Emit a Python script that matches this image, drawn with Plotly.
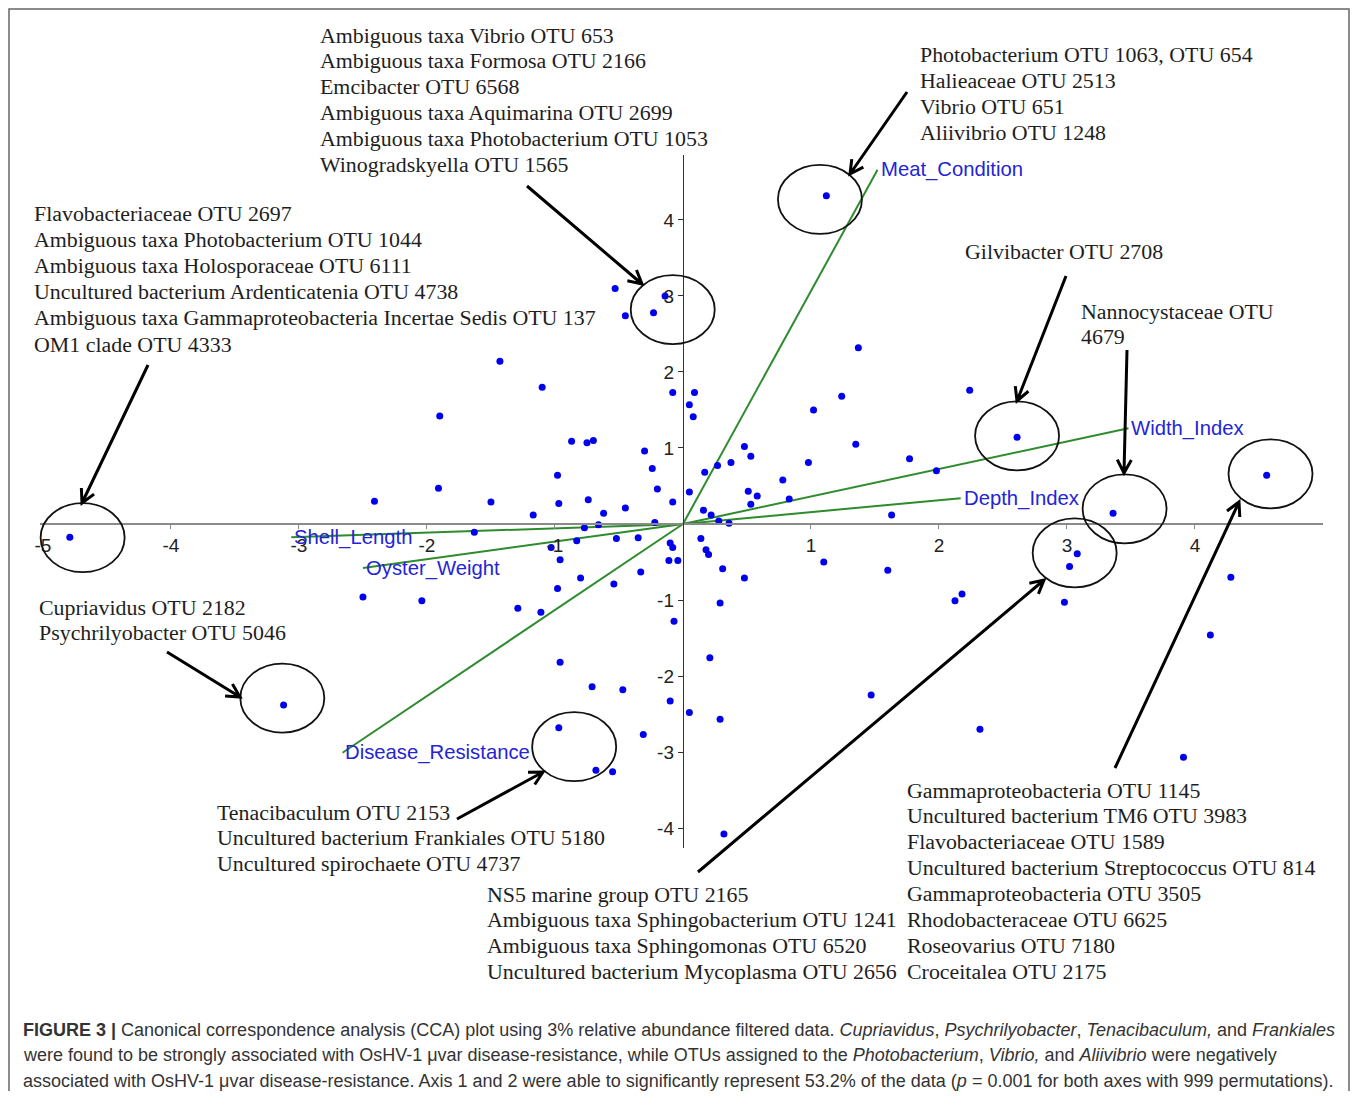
import math
import plotly.graph_objects as go

# ---------------- data ----------------
otu_cca1 = [-4.79, -3.12, -2.50, -2.41, -2.04, -1.91, -1.90, -1.63, -1.50, -1.43,
            -1.29, -1.17, -1.11, -1.10, -1.03, -0.98, -0.98, -0.97, -0.96, -0.96,
            -0.97, -0.87, -0.83, -0.80, -0.77, -0.75, -0.74, -0.71, -0.70, -0.68,
            -0.66, -0.62, -0.55, -0.54, -0.53, -0.52, -0.47, -0.45, -0.45, -0.35,
            -0.33, -0.31, -0.30, -0.24, -0.23, -0.22, -0.20, -0.14, -0.11, -0.10,
            -0.10, -0.08, -0.08, -0.08, -0.07, -0.04, 0.05, 0.05, 0.05, 0.08,
            0.09, 0.14, 0.16, 0.17, 0.18, 0.20, 0.21, 0.22, 0.27, 0.28,
            0.29, 0.29, 0.31, 0.32, 0.36, 0.375, 0.48, 0.48, 0.51, 0.53,
            0.53, 0.58, 0.78, 0.83, 0.98, 1.02, 1.10, 1.12, 1.24, 1.35,
            1.37, 1.47, 1.60, 1.63, 1.77, 1.98, 2.125, 2.18, 2.24, 2.32,
            2.61, 2.98, 3.02, 3.08, 3.36, 3.91, 4.12, 4.28, 4.56]
otu_cca2 = [-0.175, -2.38, -0.96, 0.30, -1.01, 0.47, 1.42, -0.11, 0.29, 2.14,
            -1.11, 0.12, -1.16, 1.80, -0.31, 0.64, -0.85, 0.27, -0.47, -1.82,
            -2.68, 1.09, -0.22, -0.71, -0.05, 1.07, 0.32, -2.14, 1.10, -3.24,
            -0.01, 0.14, -3.26, -0.79, 3.10, -0.19, -2.18, 0.21, 2.74, -0.18,
            -0.63, -2.77, 0.96, 0.73, 2.78, 0.02, 0.46, 3.00, -0.48, -0.25,
            -2.33, 1.73, 0.29, -0.31, -1.28, -0.48, 0.42, 1.57, -2.48, 1.41,
            1.73, -0.19, 0.18, 0.68, -0.34, -0.40, -1.76, 0.12, 0.77, 0.04,
            -1.04, -2.57, -0.59, -4.08, 0.01, 0.81, 1.02, -0.71, 0.43, 0.89,
            0.26, 0.37, 0.58, 0.33, 0.81, 1.50, -0.50, 4.32, 1.68, 1.05,
            2.32, -2.25, -0.61, 0.12, 0.86, 0.70, -1.01, -0.92, 1.76, -2.70,
            1.14, -1.03, -0.56, -0.39, 0.14, -3.07, -1.46, -0.70, 0.64]

env_names = ["Meat_Condition", "Width_Index", "Depth_Index",
             "Shell_Length", "Oyster_Weight", "Disease_Resistance"]
env_cca1 = [1.52, 3.48, 2.17, -3.06, -2.50, -2.66]
env_cca2 = [4.66, 1.26, 0.34, -0.175, -0.58, -3.01]

x_ticks = [-5, -4, -3, -2, -1, 1, 2, 3, 4]
y_ticks = [-4, -3, -2, -1, 1, 2, 3, 4]

# highlighted groups: circle centre (data units)
circle_cx = [1.07, -0.08, 2.61, 3.45, 4.59, 3.06, -0.85, -4.69, -3.13]
circle_cy = [4.27, 2.82, 1.16, 0.20, 0.66, -0.38, -2.93, -0.18, -2.29]

label_blocks = [
    ["Ambiguous taxa Vibrio OTU 653", "Ambiguous taxa Formosa OTU 2166",
     "Emcibacter OTU 6568", "Ambiguous taxa Aquimarina OTU 2699",
     "Ambiguous taxa Photobacterium OTU 1053", "Winogradskyella OTU 1565"],
    ["Flavobacteriaceae OTU 2697", "Ambiguous taxa Photobacterium OTU 1044",
     "Ambiguous taxa Holosporaceae OTU 6111",
     "Uncultured bacterium Ardenticatenia OTU 4738",
     "Ambiguous taxa Gammaproteobacteria Incertae Sedis OTU 137",
     "OM1 clade OTU 4333"],
    ["Photobacterium OTU 1063, OTU 654", "Halieaceae OTU 2513",
     "Vibrio OTU 651", "Aliivibrio OTU 1248"],
    ["Gilvibacter OTU 2708"],
    ["Nannocystaceae OTU", "4679"],
    ["Cupriavidus OTU 2182", "Psychrilyobacter OTU 5046"],
    ["Tenacibaculum OTU 2153", "Uncultured bacterium Frankiales OTU 5180",
     "Uncultured spirochaete OTU 4737"],
    ["NS5 marine group OTU 2165", "Ambiguous taxa Sphingobacterium OTU 1241",
     "Ambiguous taxa Sphingomonas OTU 6520",
     "Uncultured bacterium Mycoplasma OTU 2656"],
    ["Gammaproteobacteria OTU 1145", "Uncultured bacterium TM6 OTU 3983",
     "Flavobacteriaceae OTU 1589", "Uncultured bacterium Streptococcus OTU 814",
     "Gammaproteobacteria OTU 3505", "Rhodobacteraceae OTU 6625",
     "Roseovarius OTU 7180", "Croceitalea OTU 2175"],
]

caption_lines = [
    "<b>FIGURE 3 |</b> Canonical correspondence analysis (CCA) plot using 3% relative abundance filtered data. "
    "<i>Cupriavidus</i>, <i>Psychrilyobacter</i>, <i>Tenacibaculum,</i> and <i>Frankiales</i>",
    "were found to be strongly associated with OsHV-1 \u03bcvar disease-resistance, while OTUs assigned to the "
    "<i>Photobacterium</i>, <i>Vibrio,</i> and <i>Aliivibrio</i> were negatively",
    "associated with OsHV-1 \u03bcvar disease-resistance. Axis 1 and 2 were able to significantly represent "
    "53.2% of the data (<i>p</i> = 0.001 for both axes with 999 permutations).",
]

# ---------------- layout geometry (page pixels) ----------------
PAGE_OFF = 8            # default body margin of the page
W, H = 1358 - 2 * PAGE_OFF, 1099 - 2 * PAGE_OFF
L, R, T, B = 40, 1323, 155, 848          # plot area in page pixels
X_RANGE = [-5.023, 5.0]
Y_RANGE = [-4.263, 4.855]


def px2paper(px, py):
    return (px - L) / (R - L), (B - py) / (B - T)


def data2px(x, y):
    px = L + (x - X_RANGE[0]) / (X_RANGE[1] - X_RANGE[0]) * (R - L)
    py = B - (y - Y_RANGE[0]) / (Y_RANGE[1] - Y_RANGE[0]) * (B - T)
    return px, py


SERIF = "Liberation Serif, Times New Roman, serif"
SANS = "Liberation Sans, Arial, Helvetica, sans-serif"
GREEN = "#2e8b2e"
BLUE_TXT = "#2424d6"

fig = go.Figure()

# biplot vectors
for nm, ex, ey in zip(env_names, env_cca1, env_cca2):
    fig.add_trace(go.Scatter(x=[0, ex], y=[0, ey], mode="lines",
                             line=dict(color=GREEN, width=2),
                             hoverinfo="skip", showlegend=False))

fig.add_trace(go.Scatter(x=otu_cca1, y=otu_cca2, mode="markers",
                         marker=dict(color="#0000ee", size=7),
                         cliponaxis=False, showlegend=False))

annotations = []
for nm, ex, ey in zip(env_names, env_cca1, env_cca2):
    annotations.append(dict(x=ex, y=ey, xref="x", yref="y", text=nm,
                            showarrow=False, xanchor="left", yanchor="middle",
                            xshift=1, font=dict(family=SANS, size=20.3, color=BLUE_TXT)))

# text blocks: (left px, first line centre px, line step px)
block_pos = [(321, 35, 25.8), (35, 213, 26.2), (921, 55, 25.7), (966, 251, 25.8),
             (1082, 311, 25.5), (40, 607, 25.5), (218, 812, 25.6),
             (488, 894, 25.9), (908, 790, 25.9)]
for lines, (bx, by, step) in zip(label_blocks, block_pos):
    for i, ln in enumerate(lines):
        px_, py_ = px2paper(bx - 3, by + i * step)
        annotations.append(dict(x=px_, y=py_, xref="paper", yref="paper", text=ln,
                                showarrow=False, xanchor="left", yanchor="middle",
                                font=dict(family=SERIF, size=21.9, color="#1e1e1e")))

for i, ln in enumerate(caption_lines):
    px_, py_ = px2paper(21, 1029.5 + i * 25.7)
    annotations.append(dict(x=px_, y=py_, xref="paper", yref="paper", text=ln,
                            showarrow=False, xanchor="left", yanchor="middle",
                            font=dict(family=SANS, size=18, color="#333333")))

shapes = []
# circles
RX, RY = 42, 34.5
for cx, cy in zip(circle_cx, circle_cy):
    pcx, pcy = data2px(cx, cy)
    x0, y0 = px2paper(pcx - RX, pcy + RY)
    x1, y1 = px2paper(pcx + RX, pcy - RY)
    shapes.append(dict(type="circle", xref="paper", yref="paper",
                       x0=x0, y0=y0, x1=x1, y1=y1,
                       line=dict(color="#111111", width=1.8)))

# pointer arrows (tail px -> tip px)
arrows = [((148, 365), (82, 503)), ((527, 186), (642, 284)),
          ((907, 92), (850, 174)), ((1066, 276), (1017, 401)),
          ((1127, 350), (1124, 473)), ((167, 652), (240, 697)),
          ((457, 819), (543, 772)), ((698, 872), (1044, 580)),
          ((1115, 768), (1239, 502))]
for (tx, ty), (hx, hy) in arrows:
    ang = math.atan2(hy - ty, hx - tx)
    arm, spread = 15, math.radians(28)
    a1 = (hx - arm * math.cos(ang - spread), hy - arm * math.sin(ang - spread))
    a2 = (hx - arm * math.cos(ang + spread), hy - arm * math.sin(ang + spread))
    pts = [px2paper(tx, ty), px2paper(hx, hy), px2paper(*a1), px2paper(*a2)]
    path = (f"M {pts[0][0]} {pts[0][1]} L {pts[1][0]} {pts[1][1]} "
            f"M {pts[2][0]} {pts[2][1]} L {pts[1][0]} {pts[1][1]} L {pts[3][0]} {pts[3][1]}")
    shapes.append(dict(type="path", xref="paper", yref="paper", path=path,
                       line=dict(color="#000000", width=3)))

# outer frame
fx0, fy0 = px2paper(9, 9)
fx1, fy1 = px2paper(1349, 1125)
shapes.append(dict(type="rect", xref="paper", yref="paper", x0=fx0, y0=fy1, x1=fx1, y1=fy0,
                   line=dict(color="#666666", width=1.5)))

x_pos = (0 - Y_RANGE[0]) / (Y_RANGE[1] - Y_RANGE[0])
y_pos = (0 - X_RANGE[0]) / (X_RANGE[1] - X_RANGE[0])

fig.update_layout(
    width=W, height=H,
    margin=dict(l=L - PAGE_OFF, r=(W + PAGE_OFF) - R, t=T - PAGE_OFF,
                b=(H + PAGE_OFF) - B, autoexpand=False),
    paper_bgcolor="white", plot_bgcolor="rgba(0,0,0,0)",
    showlegend=False,
    xaxis=dict(range=X_RANGE, anchor="free", position=x_pos,
               showgrid=False, zeroline=False, showline=True,
               linecolor="#8a8a8a", linewidth=2,
               tickmode="array", tickvals=x_ticks, ticktext=[str(v) for v in x_ticks],
               ticks="outside", ticklen=4, tickcolor="#8a8a8a",
               tickfont=dict(family=SANS, size=19, color="#222222")),
    yaxis=dict(range=Y_RANGE, anchor="free", position=y_pos,
               showgrid=False, zeroline=False, showline=True,
               linecolor="#333333", linewidth=1.3,
               tickmode="array", tickvals=y_ticks, ticktext=[str(v) for v in y_ticks],
               ticks="outside", ticklen=5, tickcolor="#333333",
               tickfont=dict(family=SANS, size=19, color="#222222")),
    annotations=annotations,
    shapes=shapes,
)

fig.write_html("out.html")
